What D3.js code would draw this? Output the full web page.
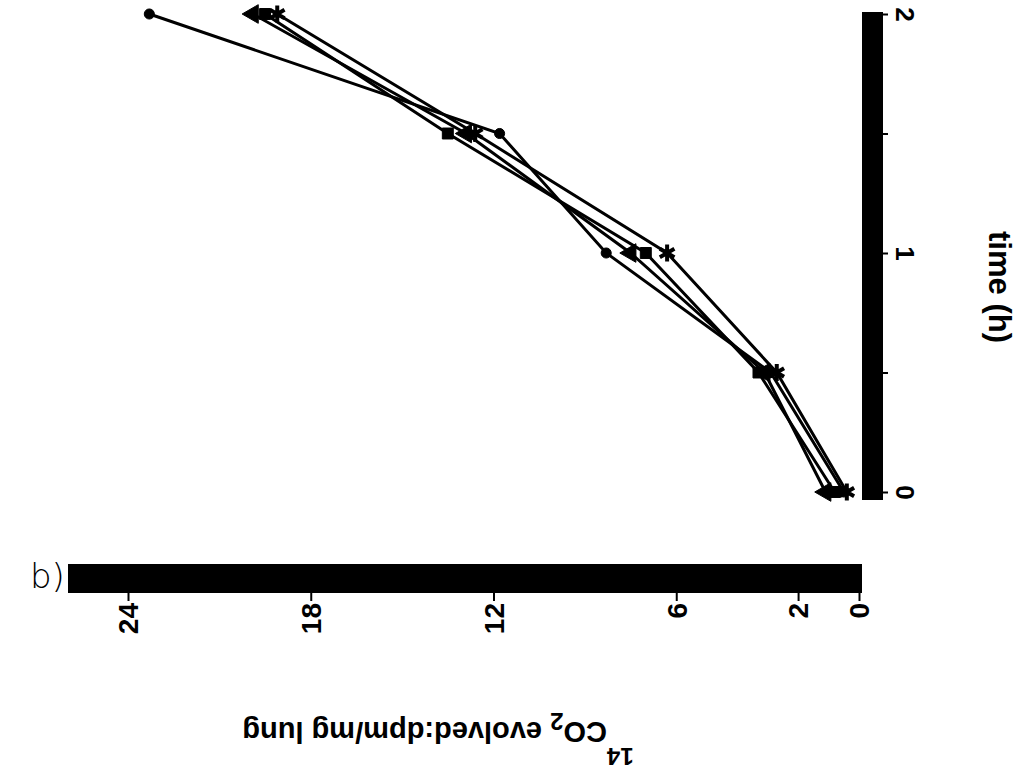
<!DOCTYPE html>
<html>
<head>
<meta charset="utf-8">
<script src="https://cdn.jsdelivr.net/npm/d3@7"></script>
<style>
  body { margin: 0; background: #fff; }
  text { font-family: "Liberation Sans", Arial, sans-serif; fill: #000; }
</style>
</head>
<body>
<div id="chart"></div>
<script>
const timeH = [0, 0.5, 1, 1.5, 2];
const circleSeries = [0.5, 2.9, 8.3, 11.8, 23.3];
const triangleSeries = [1.1, 3.1, 7.5, 12.9, 19.9];
const squareSeries = [0.8, 3.3, 7.0, 13.5, 19.5];
const starSeries = [0.4, 2.7, 6.3, 12.6, 19.1];
const co2Ticks = [0, 2, 6, 12, 18, 24];
const timeTicks = [0, 0.5, 1, 1.5, 2];
const timeTickLabels = ["0", "", "1", "", "2"];

const width = 1019, height = 777;

const svg = d3.select("#chart").append("svg")
    .attr("width", width)
    .attr("height", height);

svg.append("rect").attr("width", width).attr("height", height).attr("fill", "#fff");

// CO2 runs right-to-left along the bottom, time runs bottom-to-top on the right
const xScale = d3.scaleLinear().domain([0, 24]).range([859, 128]);
const yScale = d3.scaleLinear().domain([0, 2]).range([492, 14]);

/* thick axis bars */
svg.append("rect")
    .attr("x", 68).attr("y", 564)
    .attr("width", xScale(0) + 3 - 68).attr("height", 29)
    .attr("fill", "#000");

svg.append("rect")
    .attr("x", 862).attr("y", yScale(2) - 2)
    .attr("width", 21).attr("height", yScale(0) - yScale(2) + 10)
    .attr("fill", "#000");

/* CO2 axis */
const xAxis = svg.append("g")
    .attr("transform", "translate(0,593)")
    .call(d3.axisBottom(xScale).tickValues(co2Ticks).tickSize(8).tickFormat(d3.format("d")));
xAxis.select(".domain").remove();
xAxis.selectAll(".tick line").attr("stroke", "#000").attr("stroke-width", 2);
xAxis.selectAll(".tick text")
    .attr("transform", "translate(0,10) rotate(-90)")
    .attr("x", 0).attr("y", 0).attr("dy", "0.35em")
    .attr("text-anchor", "end")
    .style("font-size", "28px")
    .style("font-weight", "bold");

/* time axis */
const yAxis = svg.append("g")
    .attr("transform", "translate(883,0)")
    .call(d3.axisRight(yScale).tickValues(timeTicks).tickSize(5)
        .tickFormat((d, i) => timeTickLabels[i]));
yAxis.select(".domain").remove();
yAxis.selectAll(".tick line").attr("stroke", "#000").attr("stroke-width", 2);
yAxis.selectAll(".tick text")
    .attr("transform", "translate(22,0) rotate(90)")
    .attr("x", 0).attr("y", 0).attr("dy", "0.35em")
    .attr("text-anchor", "middle")
    .style("font-size", "26px")
    .style("font-weight", "bold");

/* axis titles */
svg.append("text")
    .attr("transform", "translate(1000,287) rotate(90)")
    .attr("text-anchor", "middle")
    .attr("dy", "0.35em")
    .style("font-size", "31px")
    .style("font-weight", "bold")
    .text("time (h)");

const yTitle = svg.append("text")
    .attr("transform", "translate(438,722) rotate(180)")
    .attr("text-anchor", "middle")
    .style("font-size", "29px")
    .style("font-weight", "bold");
yTitle.append("tspan").attr("dy", -26).style("font-size", "24px").text("14");
yTitle.append("tspan").attr("dy", 26).text("CO");
yTitle.append("tspan").attr("dy", 9).style("font-size", "24px").text("2");
yTitle.append("tspan").attr("dy", -9).text("  evolved:dpm/mg lung");

svg.append("text")
    .attr("x", 30).attr("y", 588)
    .style("font-size", "34px")
    .style("font-family", "DejaVu Sans")
    .style("font-weight", "200")
    .text("b)");

/* series */
const series = [
    { name: "circle", values: circleSeries, symbol: d3.symbolCircle, size: 80, rot: 0 },
    { name: "triangle", values: triangleSeries, symbol: d3.symbolTriangle, size: 150, rot: -90 },
    { name: "square", values: squareSeries, symbol: d3.symbolSquare, size: 120, rot: 0 },
    { name: "star", values: starSeries, symbol: d3.symbolAsterisk, size: 200, rot: 0 }
];

const line = d3.line()
    .x(d => xScale(d[1]))
    .y(d => yScale(d[0]));

series.forEach(s => {
    const pts = timeH.map((t, i) => [t, s.values[i]]);
    svg.append("path")
        .datum(pts)
        .attr("d", line)
        .attr("fill", "none")
        .attr("stroke", "#000")
        .attr("stroke-width", 3);

    const stroked = s.symbol === d3.symbolAsterisk;
    svg.selectAll(null)
        .data(pts)
        .join("path")
        .attr("transform", d => `translate(${xScale(d[1])},${yScale(d[0])}) rotate(${s.rot})`)
        .attr("d", d3.symbol(s.symbol, s.size))
        .attr("fill", stroked ? "none" : "#000")
        .attr("stroke", "#000")
        .attr("stroke-width", stroked ? 4 : 1);
});
</script>
</body>
</html>
